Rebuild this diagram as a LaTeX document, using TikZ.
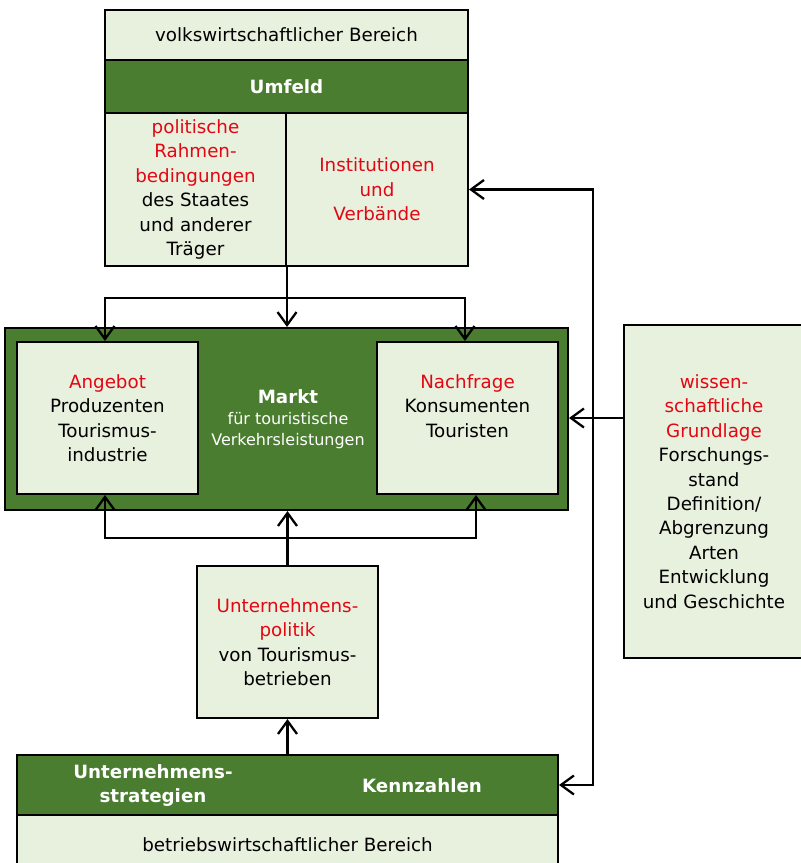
\documentclass[tikz,border=0pt]{standalone}
\usepackage{fontspec}
\setmainfont{DejaVu Sans}
\usepackage{xcolor}
\usetikzlibrary{arrows.meta, positioning}
\definecolor{dunkelgruen}{RGB}{74,125,47}
\definecolor{hellgruen}{RGB}{232,240,222}
\definecolor{rot}{RGB}{227,6,19}
\newcommand{\rottext}[1]{\textcolor{rot}{#1}}

\begin{document}
\begin{tikzpicture}[x=0.02cm, y=-0.02cm,
    hell/.style={draw, rectangle, fill=hellgruen, line width=1.2pt, inner sep=0pt,
        align=center, font=\fontsize{10.4}{13.9}\selectfont},
    dunkel/.style={draw, rectangle, fill=dunkelgruen, line width=1.2pt, inner sep=0pt,
        text=white, font=\fontsize{10.4}{13.9}\selectfont\bfseries},
    pfeil/.style={-{Straight Barb[length=2.6mm, width=3.8mm]}, line width=1.3pt}]
        \useasboundingbox (0,0) rectangle (801,863);

        % Umfeld
        \node[hell, minimum width=7.26cm, minimum height=1cm] (vwb) at (286.5,35) {volkswirtschaftlicher Bereich};
        \node[dunkel, minimum width=7.26cm, minimum height=1.06cm] (umfeld) at (286.5,86.5) {Umfeld};
        \node[hell, minimum width=3.62cm, minimum height=3.06cm] (politik) at (195.5,189.5) {
            \rottext{politische}\\ \rottext{Rahmen-}\\ \rottext{bedingungen}\\
            des Staates\\ und anderer\\ Träger};
        \node[hell, minimum width=3.64cm, minimum height=3.06cm] (verbaende) at (377,189.5) {
            \rottext{Institutionen}\\ \rottext{und}\\ \rottext{Verbände}};

        % Markt
        \node[dunkel, minimum width=11.26cm, minimum height=3.64cm] (markt) at (286.5,419) {};
        \node[hell, minimum width=3.62cm, minimum height=3.04cm] (angebot) at (107.5,418) {
            \rottext{Angebot}\\ Produzenten\\ Tourismus-\\ industrie};
        \node[hell, minimum width=3.62cm, minimum height=3.04cm] (nachfrage) at (467.5,418) {
            \rottext{Nachfrage}\\ Konsumenten\\ Touristen\\ \mbox{}};
        \node[text=white, align=center, font=\fontsize{9.1}{12}\selectfont] (marktlabel) at (288,419) {
            {\fontsize{10.4}{12.5}\selectfont\bfseries Markt}\\ für touristische\\ Verkehrsleistungen};

        % Wissenschaft
        \node[hell, minimum width=3.6cm, minimum height=6.66cm] (wiss) at (714,491.5) {
            \rottext{wissen-}\\ \rottext{schaftliche}\\ \rottext{Grundlage}\\
            Forschungs-\\ stand\\ Definition/\\ Abgrenzung\\ Arten\\ Entwicklung\\ und Geschichte};

        % Unternehmenspolitik
        \node[hell, minimum width=3.62cm, minimum height=3.04cm] (upolitik) at (287.5,642) {
            \rottext{Unternehmens-}\\ \rottext{politik}\\ von Tourismus-\\ betrieben};

        % Betrieb
        \node[dunkel, minimum width=10.82cm, minimum height=1.2cm] (strat) at (287.5,785) {};
        \node[text=white, align=center, font=\fontsize{10.4}{13.9}\selectfont\bfseries] (strategien) at (153,785.5) {
            Unternehmens-\\ strategien};
        \node[text=white, font=\fontsize{10.4}{13.9}\selectfont\bfseries] (kennzahlen) at (422,786) {Kennzahlen};
        \node[hell, minimum width=10.82cm, minimum height=1.2cm] (bwb) at (287.5,845) {betriebswirtschaftlicher Bereich};

        % Verbindungen
        \coordinate (oben) at (286,298);
        \coordinate (unten) at (288,538);
        \coordinate (knoten) at (593,418);
        \draw[pfeil] (politik.south east) -- (markt.north -| politik.south east);
        \draw[pfeil] (oben) -| ([xshift=-0.05cm]angebot.north);
        \draw[pfeil] (oben) -| ([xshift=-0.05cm]nachfrage.north);
        \draw[pfeil] (upolitik.north) -- (markt.south -| upolitik.north);
        \draw[pfeil] (unten) -| ([xshift=-0.05cm]angebot.south);
        \draw[pfeil] (unten) -| ([xshift=0.17cm]nachfrage.south);
        \draw[pfeil] (strat.north) -- (upolitik.south);
        \draw[pfeil] (wiss.west |- knoten) -- (markt.east |- knoten);
        \draw[pfeil] (knoten) |- (verbaende.east);
        \draw[pfeil] (knoten) |- (strat.east);
    \end{tikzpicture}
\end{document}
